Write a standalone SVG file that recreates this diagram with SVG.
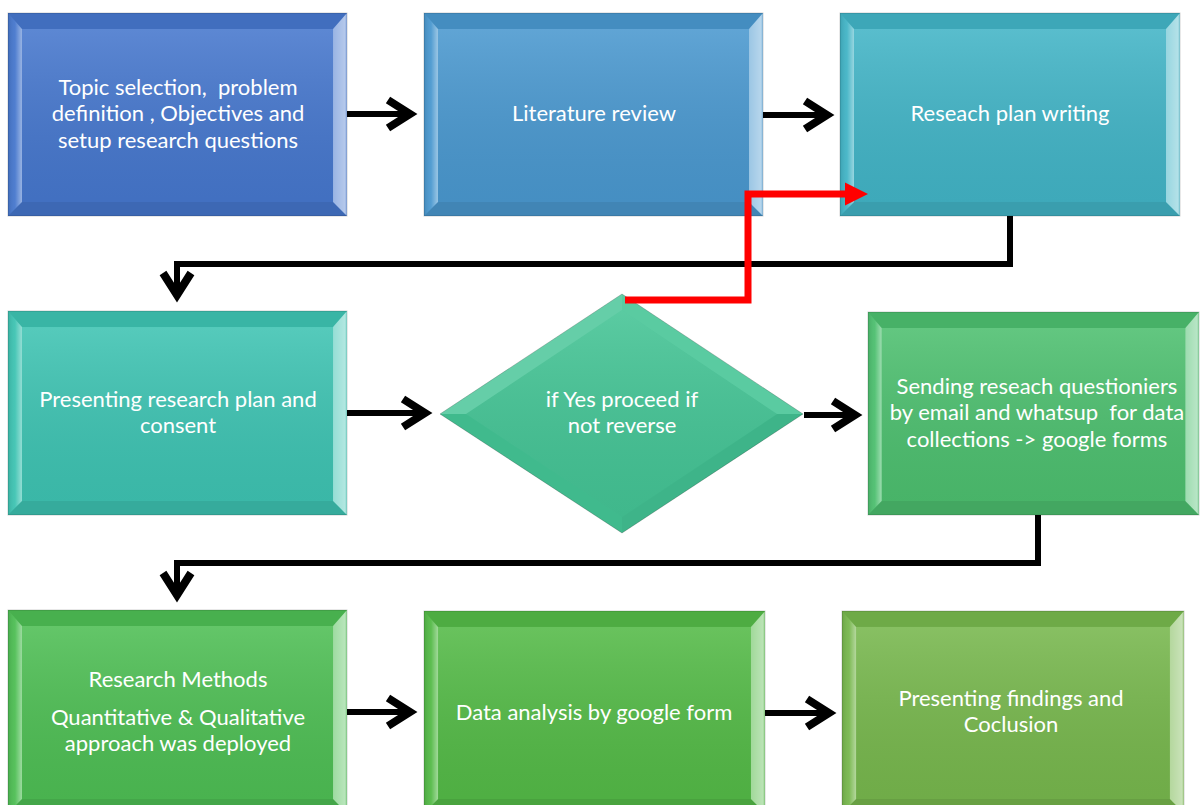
<svg xmlns="http://www.w3.org/2000/svg" xmlns:xlink="http://www.w3.org/1999/xlink" width="1200" height="805" viewBox="0 0 1200 805">
  <style>
    .lbl { font-family: Lato, "Open Sans", "Liberation Sans", sans-serif; font-size: 22px; fill: #ffffff; text-anchor: middle; white-space: pre; }
    .base { stroke: rgba(0,0,0,0.18); stroke-width: 1; }
    .wire { fill: none; stroke: #000000; stroke-width: 6; stroke-linejoin: miter; marker-end: url(#chev); }
    .back { fill: none; stroke: #ff0000; stroke-width: 7; stroke-linejoin: miter; marker-end: url(#tri); }
  </style>
  <defs>
    <!-- shading shared by all bevelled boxes -->
    <linearGradient id="faceShade" x1="0" y1="0" x2="0" y2="1">
      <stop offset="0" stop-color="#ffffff" stop-opacity="0.12"/>
      <stop offset="1" stop-color="#000000" stop-opacity="0.06"/>
    </linearGradient>
    <linearGradient id="leftShade" x1="0" y1="0" x2="1" y2="0">
      <stop offset="0" stop-color="#000000" stop-opacity="0.1"/>
      <stop offset="0.5" stop-color="#ffffff" stop-opacity="0.05"/>
      <stop offset="1" stop-color="#ffffff" stop-opacity="0.45"/>
    </linearGradient>
    <linearGradient id="rightShade" x1="0" y1="0" x2="1" y2="0">
      <stop offset="0" stop-color="#ffffff" stop-opacity="0.45"/>
      <stop offset="0.85" stop-color="#ffffff" stop-opacity="0.6"/>
      <stop offset="1" stop-color="#ffffff" stop-opacity="0.3"/>
    </linearGradient>
    <symbol id="bevel" viewBox="0 0 340 203" preserveAspectRatio="none">
      <rect x="14" y="16" width="312" height="173" fill="url(#faceShade)"/>
      <polygon points="0,0 340,0 326,16 14,16" fill="#000000" fill-opacity="0.07"/>
      <polygon points="0,203 340,203 326,189 14,189" fill="#000000" fill-opacity="0.12"/>
      <polygon points="0,0 14,16 14,189 0,203" fill="url(#leftShade)"/>
      <polygon points="340,0 326,16 326,189 340,203" fill="url(#rightShade)"/>
    </symbol>
    <marker id="chev" markerUnits="userSpaceOnUse" viewBox="-36 -20 44 40" markerWidth="44" markerHeight="40" refX="-6" refY="0" orient="auto" overflow="visible">
      <path d="M-30,-14 L-8,0 L-30,14" fill="none" stroke="#000000" stroke-width="8"/>
    </marker>
    <marker id="tri" markerUnits="userSpaceOnUse" viewBox="-6 -14 30 28" markerWidth="30" markerHeight="28" refX="0" refY="0" orient="auto" overflow="visible">
      <path d="M-4,-11.5 L19,0 L-4,11.5 Z" fill="#ff0000"/>
    </marker>
  </defs>

  <rect width="1200" height="805" fill="#ffffff"/>

  <!-- row 1 -->
  <g id="topic">
    <rect class="base" x="8" y="13" width="339" height="203" fill="#4677cd"/>
    <use xlink:href="#bevel" x="8" y="13" width="339" height="203"/>
    <text class="lbl" x="178" y="95">Topic selection,  problem</text>
    <text class="lbl" x="178" y="121">definition , Objectives and</text>
    <text class="lbl" x="178" y="148">setup research questions</text>
  </g>
  <g id="literature">
    <rect class="base" x="424" y="13" width="339" height="203" fill="#4a98cf"/>
    <use xlink:href="#bevel" x="424" y="13" width="339" height="203"/>
    <text class="lbl" x="594" y="121">Literature review</text>
  </g>
  <g id="plan">
    <rect class="base" x="840" y="13" width="340" height="203" fill="#42b4c6"/>
    <use xlink:href="#bevel" x="840" y="13" width="340" height="203"/>
    <text class="lbl" x="1010" y="121">Reseach plan writing</text>
  </g>

  <!-- row 2 -->
  <g id="presenting">
    <rect class="base" x="8" y="311" width="339" height="204" fill="#3ec3b2"/>
    <use xlink:href="#bevel" x="8" y="311" width="339" height="204"/>
    <text class="lbl" x="178" y="407">Presenting research plan and</text>
    <text class="lbl" x="178" y="433">consent</text>
  </g>
  <g id="decision">
    <polygon points="440,414 622,294 803,414 622,533" fill="#44c495" stroke="rgba(0,0,0,0.2)" stroke-width="1"/>
    <polygon points="440,414 622,294 622,310 466,414" fill="#ffffff" fill-opacity="0.18"/>
    <polygon points="622,294 803,414 777,414 622,310" fill="#ffffff" fill-opacity="0.12"/>
    <polygon points="803,414 622,533 622,517 777,414" fill="#000000" fill-opacity="0.08"/>
    <polygon points="622,533 440,414 466,414 622,517" fill="#000000" fill-opacity="0.05"/>
    <polygon points="466,414 622,310 777,414 622,517" fill="url(#faceShade)"/>
    <text class="lbl" x="622" y="407">if Yes proceed if</text>
    <text class="lbl" x="622" y="433">not reverse</text>
  </g>
  <g id="sending">
    <rect class="base" x="868" y="312" width="331" height="203" fill="#4dbf6f"/>
    <use xlink:href="#bevel" x="868" y="312" width="331" height="203"/>
    <text class="lbl" x="1037" y="394">Sending reseach questioniers</text>
    <text class="lbl" x="1037" y="420">by email and whatsup  for data</text>
    <text class="lbl" x="1037" y="447">collections -&gt; google forms</text>
  </g>

  <!-- row 3 -->
  <g id="methods">
    <rect class="base" x="8" y="610" width="339" height="203" fill="#4ebe54"/>
    <use xlink:href="#bevel" x="8" y="610" width="339" height="203"/>
    <text class="lbl" x="178" y="687">Research Methods</text>
    <text class="lbl" x="178" y="725">Quantitative &amp; Qualitative</text>
    <text class="lbl" x="178" y="751">approach was deployed</text>
  </g>
  <g id="analysis">
    <rect class="base" x="424" y="611" width="341" height="202" fill="#54ba47"/>
    <use xlink:href="#bevel" x="424" y="611" width="341" height="202"/>
    <text class="lbl" x="594" y="720">Data analysis by google form</text>
  </g>
  <g id="findings">
    <rect class="base" x="842" y="611" width="342" height="202" fill="#77b74d"/>
    <use xlink:href="#bevel" x="842" y="611" width="342" height="202"/>
    <text class="lbl" x="1011" y="706">Presenting findings and</text>
    <text class="lbl" x="1011" y="732">Coclusion</text>
  </g>

  <!-- connectors -->
  <g id="connectors">
    <path class="wire" d="M347,114 H412"/>
    <path class="wire" d="M763,115 H829"/>
    <path class="wire" d="M1010,216 V264 H177 V297"/>
    <path class="wire" d="M347,413 H427"/>
    <path class="wire" d="M804,415 H857"/>
    <path class="wire" d="M1038,515 V563 H177 V597"/>
    <path class="wire" d="M347,712 H412"/>
    <path class="wire" d="M765,713 H831"/>
    <path class="back" d="M625,300 H748 V194 H849"/>
  </g>
</svg>
